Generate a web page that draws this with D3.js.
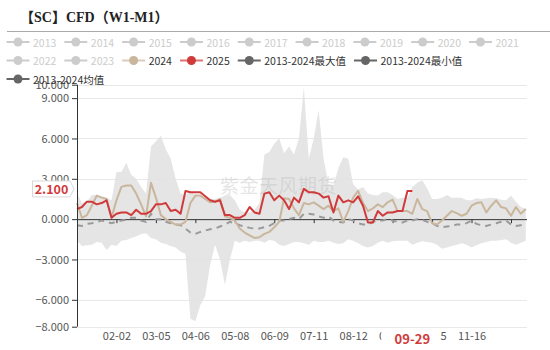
<!DOCTYPE html>
<html><head><meta charset="utf-8">
<script src="https://cdn.jsdelivr.net/npm/d3@7"></script>
<style>body{margin:0;background:#fff}svg{display:block}</style>
</head><body><div id="chart"></div>
<script>
const titleText = "【SC】CFD（W1-M1）";
const legendNames = ["2013","2014","2015","2016","2017","2018","2019","2020","2021","2022","2023","2024","2025","2013-2024最大值","2013-2024最小值","2013-2024均值"];
const legendActive = [false,false,false,false,false,false,false,false,false,false,false,true,true,true,true,true];
const yTicks = [10, 9, 6, 3, 0, -3, -6, -8];
const sampleStep = 4; // one value every 4 calendar days, from 01-01
const maxVals = [1.9,1.2,1.3,1.8,1.8,1.7,1.6,1.4,3.5,3.5,
  4.2,3.3,3.0,2.4,1.9,5.4,5.8,6.2,5.2,4.5,
  3.0,1.9,1.8,2.1,1.8,1.8,1.6,1.5,1.5,1.6,
  1.75,1.8,1.4,0.7,0.5,0.5,0.7,1.2,4.8,5.0,
  5.6,6.0,4.9,5.4,4.8,6.0,9.8,4.5,6.0,8.1,
  4.5,2.6,2.5,3.8,4.6,4.5,2.6,2.2,2.4,1.9,
  1.8,1.75,2.0,2.0,1.8,1.5,1.6,1.6,2.4,2.7,
  2.9,2.3,1.5,1.5,1.6,1.8,1.6,1.6,1.6,1.4,
  1.4,1.55,1.5,1.55,1.6,1.55,1.45,1.4,1.75,1.3,
  0.9,0.75];
const minVals = [-1.6,-2.0,-1.95,-1.9,-1.7,-1.75,-2.3,-1.9,-2.0,-1.6,
  -1.55,-1.4,-1.3,-1.1,-1.05,-1.4,-1.5,-1.75,-1.85,-2.0,
  -2.1,-2.4,-2.6,-7.4,-7.6,-6.4,-5.7,-3.4,-1.9,-3.0,
  -4.9,-3.0,-1.6,-1.75,-1.6,-1.7,-1.6,-1.6,-1.75,-1.55,
  -1.6,-1.9,-2.0,-1.85,-1.7,-1.7,-1.8,-1.9,-1.6,-1.7,
  -1.7,-1.6,-1.75,-1.85,-1.8,-1.5,-1.6,-1.8,-2.0,-2.1,
  -2.0,-1.75,-1.6,-1.75,-1.65,-1.6,-1.6,-1.6,-1.9,-1.75,
  -1.65,-1.7,-1.75,-1.9,-2.2,-2.1,-2.0,-1.9,-1.8,-1.9,
  -2.1,-1.95,-1.8,-1.7,-1.6,-1.6,-1.55,-1.5,-1.75,-1.9,
  -1.75,-1.6];
const meanVals = [-0.45,-0.5,-0.35,-0.3,-0.2,-0.1,-0.2,-0.3,-0.2,-0.1,
  -0.05,0.1,0.1,-0.1,-0.2,0.4,0.0,0.0,-0.2,-0.3,
  -0.4,-0.45,-0.7,-1.0,-1.1,-0.95,-0.85,-0.75,-0.7,-0.55,
  -0.4,-0.2,-0.3,-0.45,-0.55,-0.65,-0.7,-0.7,-0.6,-0.5,
  -0.3,-0.1,-0.1,0.0,0.1,0.0,0.4,0.4,0.35,0.2,
  0.1,0.2,-0.1,-0.2,-0.25,0.0,-0.1,-0.3,-0.4,-0.4,
  -0.2,-0.1,-0.1,0.0,-0.1,-0.2,-0.25,-0.1,-0.1,0.0,
  -0.05,-0.2,-0.3,-0.5,-0.6,-0.55,-0.5,-0.4,-0.4,-0.3,
  -0.1,-0.35,-0.45,-0.5,-0.4,-0.3,-0.2,-0.1,-0.4,-0.5,
  -0.45,-0.4];
const vals2024 = [1.2,0.1,0.3,1.0,1.75,1.6,1.5,0.1,1.4,2.4,
  2.5,2.5,1.9,1.1,0.2,2.7,1.6,0.3,0.0,-0.2,
  -0.4,-0.4,-0.2,1.2,1.75,1.75,1.5,1.25,1.3,1.5,
  0.2,0.1,-0.1,-0.7,-1.0,-1.2,-1.4,-1.35,-1.1,-0.95,
  -0.6,-0.2,1.55,1.5,0.8,0.3,1.2,1.1,1.25,1.0,
  0.75,1.0,0.6,0.8,-0.2,0.6,1.6,2.1,1.2,0.6,
  0.8,1.1,0.9,1.25,1.45,0.6,0.6,0.6,0.4,1.5,
  0.75,0.6,-0.3,-0.4,-0.1,0.25,0.6,0.45,0.25,0.4,
  1.0,1.2,1.25,0.5,1.0,1.4,0.9,0.8,0.25,0.9,
  0.4,0.75];
const vals2025 = [0.75,0.9,1.3,1.3,1.1,1.2,1.4,0.1,0.4,0.5,
  0.5,0.3,0.7,0.4,0.4,0.6,1.1,1.1,1.2,0.6,
  0.7,0.4,2.1,2.0,2.0,2.0,1.7,1.4,1.3,1.4,
  0.3,0.3,0.1,0.1,0.3,0.9,0.5,0.4,1.9,2.0,
  1.4,1.75,1.4,0.75,1.6,1.25,2.25,2.0,2.0,1.9,
  1.6,1.7,0.5,1.75,1.25,1.4,1.25,1.7,1.0,-0.25,
  -0.25,0.6,0.25,0.5,0.5,0.6,0.6,2.1,2.1];
const pointerDate = "09-29";
const pointerValue = 2.1;
const watermarkText = "紫金天风期货";
const labelEvery = 32;

const C = {
  c2024: "#c9b69c", c2025: "#d03a3a", dark: "#666", inactive: "#ccc",
  area: "#e2e2e2", mean: "#9a9a9a", grid: "#e8e8e8", axis: "#333", label: "#555"
};
const W = 550, H = 350;
const pL = 77, pR = 527, pT = 84.7, pB = 326.7;

const dates = d3.timeDay.range(new Date(2024, 0, 1), new Date(2025, 0, 1)).map(d3.timeFormat("%m-%d"));
const x = d3.scalePoint().domain(dates).range([pL, pR]);
const y = d3.scaleLinear().domain([-8, 10]).range([pB, pT]);
const xi = i => x(dates[i * sampleStep]);

const svg = d3.select("#chart").append("svg").attr("width", W).attr("height", H)
  .style("font-family", "'Noto Sans CJK SC','Noto Sans',sans-serif");

// title
svg.append("text").attr("x", 20).attr("y", 22).text(titleText)
  .attr("font-family", "'Liberation Serif','DejaVu Serif','Noto Sans CJK SC',serif")
  .attr("font-weight", "bold").attr("font-size", 14).attr("fill", "#222");
svg.append("line").attr("x1", 7).attr("x2", 550).attr("y1", 31.5).attr("y2", 31.5)
  .attr("stroke", "#aaa").attr("stroke-width", 1);

// grid
svg.append("g").selectAll("line").data(yTicks).join("line")
  .attr("x1", pL).attr("x2", pR).attr("y1", d => Math.round(y(d)) + 0.5).attr("y2", d => Math.round(y(d)) + 0.5)
  .attr("stroke", C.grid);

// envelope area
const area = d3.area().x((d, i) => xi(i)).y0((d, i) => y(minVals[i])).y1((d, i) => y(maxVals[i]));
svg.append("path").datum(maxVals).attr("d", area).attr("fill", C.area).attr("fill-opacity", 0.9);

// watermark
svg.append("text").attr("x", 220).attr("y", 193).text(watermarkText)
  .attr("font-size", 19).attr("fill", "#b4b4b4").attr("fill-opacity", 0.35).attr("letter-spacing", 0.5);

// zero axis with ticks
const xAxisZero = d3.axisBottom(x)
  .tickValues(dates.filter((d, i) => i > 0 && i % labelEvery === 0))
  .tickSize(4).tickFormat("");
const gz = svg.append("g").attr("transform", `translate(0,${y(0)})`).call(xAxisZero);
gz.select(".domain").attr("stroke", C.axis).attr("d", `M${pL},0.5H${pR}`);
gz.selectAll(".tick line").attr("stroke", C.axis);

// series lines
const line = vals => d3.line().x((d, i) => xi(i)).y(d => y(d))(vals);
svg.append("path").attr("d", line(meanVals)).attr("fill", "none")
  .attr("stroke", C.mean).attr("stroke-width", 2).attr("stroke-dasharray", "6,5");
svg.append("path").attr("d", line(vals2024)).attr("fill", "none")
  .attr("stroke", C.c2024).attr("stroke-width", 2).attr("stroke-linejoin", "round");
svg.append("path").attr("d", line(vals2025)).attr("fill", "none")
  .attr("stroke", C.c2025).attr("stroke-width", 2).attr("stroke-linejoin", "round");

// y axis
const yAxis = d3.axisLeft(y).tickValues(yTicks).tickFormat(d3.format(".3f")).tickSize(5).tickPadding(3);
const gy = svg.append("g").attr("transform", `translate(${pL},0)`).call(yAxis);
gy.select(".domain").attr("stroke", C.axis).attr("d", `M0.5,${pT}V${pB}`);
gy.selectAll(".tick line").attr("stroke", C.axis);
gy.selectAll("text").attr("fill", C.label).attr("font-size", 11).attr("font-family", "'Noto Sans CJK SC',sans-serif");

// bottom labels
const xAxisLabels = d3.axisBottom(x)
  .tickValues(dates.filter((d, i) => i > 0 && i % labelEvery === 0 && i <= 320))
  .tickSize(0).tickPadding(0);
const gx = svg.append("g").attr("transform", `translate(0,${pB + 5})`).call(xAxisLabels);
gx.select(".domain").remove();
gx.selectAll("text").attr("fill", C.label).attr("font-size", 11).attr("font-family", "'Noto Sans CJK SC',sans-serif");

// axis pointer labels
const ppx = x(pointerDate);
svg.append("rect").attr("x", ppx - 31).attr("y", pB + 1.5).attr("width", 59).attr("height", 21).attr("fill", "#fff");
svg.append("text").attr("x", ppx).attr("y", pB + 12).attr("text-anchor", "middle").attr("dominant-baseline", "central")
  .attr("font-weight", "bold").attr("font-size", 13).attr("fill", C.c2025).text(pointerDate);
const ppy = y(pointerValue) - 2;
svg.append("path").attr("d", `M32.5,${ppy - 8}H70L74,${ppy}L70,${ppy + 8}H32.5Z`)
  .attr("fill", "#fff").attr("stroke", "#d8d8d8");
svg.append("text").attr("x", 51.5).attr("y", ppy).attr("text-anchor", "middle").attr("dominant-baseline", "central")
  .attr("font-weight", "bold").attr("font-size", 12.5).attr("fill", C.c2025).text(d3.format(".3f")(pointerValue));

// legend
const legColor = i => !legendActive[i] ? C.inactive : (legendNames[i] === "2024" ? C.c2024 : legendNames[i] === "2025" ? C.c2025 : C.dark);
const leg = svg.append("g").attr("font-size", 10.5);
let lx = 33, ly = 42;
legendNames.forEach((name, i) => {
  const t = leg.append("text").attr("y", ly).attr("dominant-baseline", "central").text(name)
    .attr("fill", legendActive[i] ? "#333" : C.inactive);
  const w = t.node().getComputedTextLength();
  if (lx + w > 540) { lx = 33; ly += 18.5; t.attr("y", ly); }
  t.attr("x", lx);
  const col = legColor(i);
  leg.append("line").attr("x1", lx - 26.5).attr("x2", lx - 3.5).attr("y1", ly).attr("y2", ly)
    .attr("stroke", col).attr("stroke-width", 2).attr("stroke-opacity", legendActive[i] && (name === "2024" || name === "2025") ? 0.7 : 1);
  leg.append("circle").attr("cx", lx - 15).attr("cy", ly).attr("r", 4.5).attr("fill", col);
  lx += w + 34.5;
});
</script>
</body></html>
